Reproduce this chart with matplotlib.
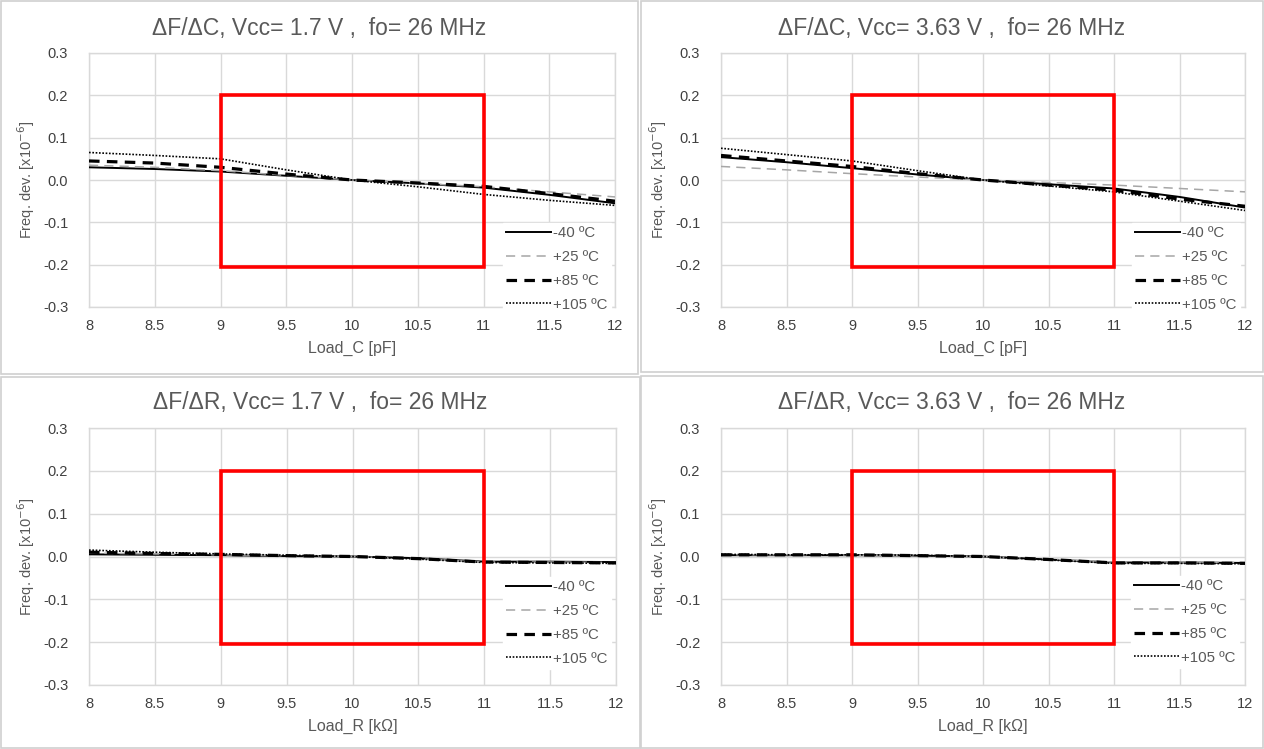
import matplotlib
matplotlib.use("Agg")
import matplotlib.pyplot as plt
from matplotlib.patches import Rectangle
from matplotlib.ticker import FuncFormatter

plt.rcParams['font.family'] = ['Liberation Sans', 'DejaVu Sans']
plt.rcParams['axes.unicode_minus'] = False

# ---------------- data ----------------
x_load = [8, 8.5, 9, 9.5, 10, 10.5, 11, 11.5, 12]
series_labels = ['-40 ºC', '+25 ºC', '+85 ºC', '+105 ºC']

# dF/dC, Vcc = 1.7 V
c17_m40 = [0.030, 0.026, 0.020, 0.010, 0.000, -0.008, -0.018, -0.035, -0.055]
c17_p25 = [0.035, 0.030, 0.022, 0.011, 0.000, -0.008, -0.016, -0.028, -0.040]
c17_p85 = [0.045, 0.040, 0.030, 0.014, 0.000, -0.007, -0.015, -0.032, -0.050]
c17_p105 = [0.065, 0.058, 0.050, 0.024, 0.000, -0.016, -0.034, -0.048, -0.060]

# dF/dC, Vcc = 3.63 V
c363_m40 = [0.054, 0.042, 0.028, 0.013, 0.000, -0.010, -0.020, -0.040, -0.065]
c363_p25 = [0.032, 0.024, 0.015, 0.007, 0.000, -0.006, -0.012, -0.020, -0.028]
c363_p85 = [0.058, 0.045, 0.032, 0.015, 0.000, -0.012, -0.024, -0.045, -0.062]
c363_p105 = [0.075, 0.060, 0.045, 0.022, 0.000, -0.014, -0.028, -0.050, -0.072]

# dF/dR, Vcc = 1.7 V
r17_m40 = [0.005, 0.004, 0.003, 0.001, 0.000, -0.004, -0.012, -0.012, -0.013]
r17_p25 = [0.008, 0.006, 0.004, 0.002, 0.000, -0.005, -0.013, -0.013, -0.014]
r17_p85 = [0.010, 0.007, 0.005, 0.002, 0.000, -0.005, -0.013, -0.014, -0.015]
r17_p105 = [0.015, 0.010, 0.006, 0.003, 0.000, -0.006, -0.014, -0.015, -0.016]

# dF/dR, Vcc = 3.63 V
r363_m40 = [0.003, 0.003, 0.003, 0.002, 0.000, -0.007, -0.014, -0.014, -0.015]
r363_p25 = [0.004, 0.004, 0.003, 0.002, 0.000, -0.006, -0.013, -0.013, -0.014]
r363_p85 = [0.004, 0.004, 0.004, 0.002, 0.000, -0.007, -0.015, -0.015, -0.016]
r363_p105 = [0.005, 0.004, 0.004, 0.003, 0.000, -0.008, -0.016, -0.016, -0.017]

# spec window (red box)
box_x = [9, 11]
box_y = [-0.205, 0.2]

x_ticks = [8, 8.5, 9, 9.5, 10, 10.5, 11, 11.5, 12]
y_ticks = [-0.3, -0.2, -0.1, 0.0, 0.1, 0.2, 0.3]

titles = ['ΔF/ΔC, Vcc= 1.7 V ,  fo= 26 MHz',
          'ΔF/ΔC, Vcc= 3.63 V ,  fo= 26 MHz',
          'ΔF/ΔR, Vcc= 1.7 V ,  fo= 26 MHz',
          'ΔF/ΔR, Vcc= 3.63 V ,  fo= 26 MHz']
xlabels = ['Load_C [pF]', 'Load_C [pF]', 'Load_R [kΩ]', 'Load_R [kΩ]']
ylabel = 'Freq. dev. [x10$^{-6}$]'

panel_data = [
    [c17_m40, c17_p25, c17_p85, c17_p105],
    [c363_m40, c363_p25, c363_p85, c363_p105],
    [r17_m40, r17_p25, r17_p85, r17_p105],
    [r363_m40, r363_p25, r363_p85, r363_p105],
]

# ---------------- layout ----------------
W, H = 1264, 749
fig = plt.figure(figsize=(W / 100, H / 100), dpi=100)

def fr(x0, y0, x1, y1):
    """pixel box (top-left origin) -> figure fraction [l, b, w, h]"""
    return [x0 / W, 1 - y1 / H, (x1 - x0) / W, (y1 - y0) / H]

panel_boxes = [(1, 1, 638, 374), (641, 1, 1263, 372),
               (1, 377, 640, 748), (641, 376, 1263, 748)]
axes_boxes = [(89, 53, 615, 307), (721, 53, 1245, 307),
              (89, 428, 616, 685), (721, 428, 1245, 685)]
title_y = [28, 28, 403, 403]
# legend top-left corner in pixels
legend_tl = [(503, 223), (1132, 223), (503, 577), (1131, 576)]

styles = [
    dict(color='black', lw=1.4, ls='-'),
    dict(color='#a6a6a6', lw=1.1, ls=(0, (6, 4))),
    dict(color='black', lw=2.3, ls=(0, (3.3, 2.3))),
    dict(color='black', lw=1.2, ls=(0, (1, 1))),
]

grid_c = '#d9d9d9'
text_grey = '#595959'

for i in range(4):
    px0, py0, px1, py1 = panel_boxes[i]
    fig.patches.append(Rectangle((px0 / W, 1 - py1 / H), (px1 - px0) / W, (py1 - py0) / H,
                                 transform=fig.transFigure, fill=False,
                                 edgecolor='#d0d0d0', lw=1.2))
    ax = fig.add_axes(fr(*axes_boxes[i]))
    for s, ys in enumerate(panel_data[i]):
        ax.plot(x_load, ys, label=series_labels[s], **styles[s], zorder=3)
    ax.add_patch(Rectangle((box_x[0], box_y[0]), box_x[1] - box_x[0], box_y[1] - box_y[0],
                           fill=False, edgecolor='#ff0000', lw=2.6, zorder=4))
    ax.set_xlim(8, 12)
    ax.set_ylim(-0.3, 0.3)
    ax.set_xticks(x_ticks)
    ax.set_yticks(y_ticks)
    ax.xaxis.set_major_formatter(FuncFormatter(lambda v, p: f'{v:g}'))
    ax.yaxis.set_major_formatter(FuncFormatter(lambda v, p: f'{v:.1f}'))
    ax.tick_params(length=0, labelsize=10.5, labelcolor='#404040')
    ax.tick_params(axis='y', pad=15)
    ax.tick_params(axis='x', pad=9)
    ax.grid(True, color=grid_c, lw=1.0)
    ax.set_axisbelow(True)
    for sp in ax.spines.values():
        sp.set_color(grid_c)
        sp.set_linewidth(1.0)
    ax.set_xlabel(xlabels[i], fontsize=11.5, color=text_grey, labelpad=5)
    ax.set_ylabel(ylabel, fontsize=10.5, color=text_grey, labelpad=4)
    cx = (px0 + px1) / 2 / W
    fig.text(cx, 1 - title_y[i] / H, titles[i], ha='center', va='center',
             fontsize=16.5, color=text_grey)
    lx, ly = legend_tl[i]
    leg = fig.legend(*ax.get_legend_handles_labels(), loc='upper left',
                     bbox_to_anchor=(lx / W, 1 - ly / H), bbox_transform=fig.transFigure,
                     fontsize=10.8, handlelength=3.0, handletextpad=0.15,
                     labelspacing=0.66, borderpad=0.2, borderaxespad=0.0,
                     frameon=True, fancybox=False, framealpha=1.0,
                     facecolor='white', edgecolor='white')
    leg.set_zorder(5)
    for t in leg.get_texts():
        t.set_color(text_grey)

fig.savefig('out.png', dpi=100, facecolor='white')
